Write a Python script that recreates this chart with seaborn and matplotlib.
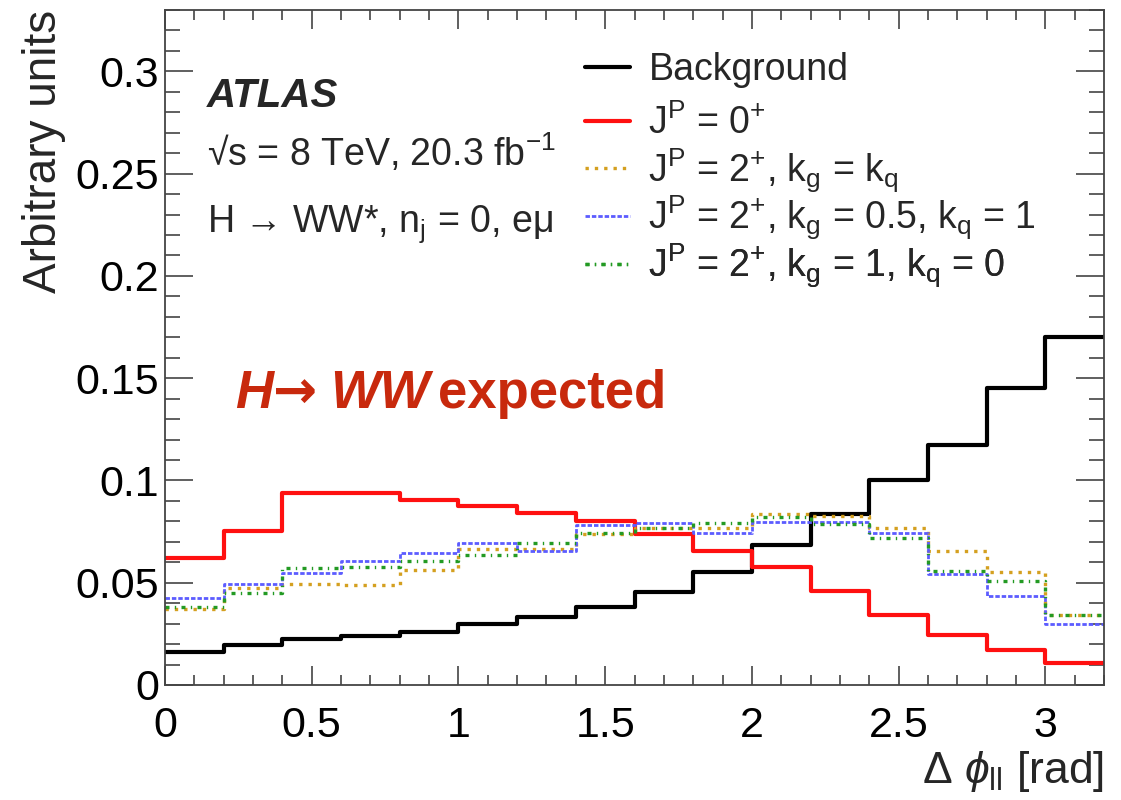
import numpy as np
import pandas as pd
import matplotlib
matplotlib.use("Agg")
import matplotlib.pyplot as plt
from matplotlib.ticker import MultipleLocator, FuncFormatter
import seaborn as sns

# Delta phi_ll binning [rad]
bin_edges = [round(0.2 * i, 2) for i in range(17)]
bin_centers = [round(0.5 * (a + b), 3) for a, b in zip(bin_edges[:-1], bin_edges[1:])]

# Normalised distributions (arbitrary units), one value per bin
background = [0.0163, 0.0196, 0.0225, 0.0240, 0.0261, 0.0297, 0.0334, 0.0383,
              0.0456, 0.0551, 0.0685, 0.0836, 0.1002, 0.1174, 0.1451, 0.1703]
spin0_plus = [0.0620, 0.0755, 0.0940, 0.0940, 0.0905, 0.0875, 0.0843, 0.0804,
              0.0738, 0.0655, 0.0575, 0.0462, 0.0342, 0.0244, 0.0171, 0.0106]
spin2_kg_eq_kq = [0.0370, 0.0473, 0.0494, 0.0489, 0.0562, 0.0663, 0.0663, 0.0737,
                  0.0766, 0.0766, 0.0836, 0.0826, 0.0769, 0.0655, 0.0551, 0.0342]
spin2_kg05_kq1 = [0.0424, 0.0492, 0.0546, 0.0606, 0.0644, 0.0693, 0.0655, 0.0782,
                  0.0791, 0.0742, 0.0795, 0.0799, 0.0742, 0.0543, 0.0437, 0.0298]
spin2_kg1_kq0 = [0.0383, 0.0448, 0.0571, 0.0579, 0.0606, 0.0636, 0.0693, 0.0745,
                 0.0770, 0.0791, 0.0823, 0.0786, 0.0720, 0.0557, 0.0509, 0.0342]

legend_labels = [
    "Background",
    r"J$^{P}$ = 0$^{+}$",
    r"J$^{P}$ = 2$^{+}$, k$_{g}$ = k$_{q}$",
    r"J$^{P}$ = 2$^{+}$, k$_{g}$ = 0.5, k$_{q}$ = 1",
    r"J$^{P}$ = 2$^{+}$, k$_{g}$ = 1, k$_{q}$ = 0",
]

sns.set_theme(style="ticks")
plt.rcParams["font.family"] = ["Liberation Sans", "DejaVu Sans"]
plt.rcParams["mathtext.fontset"] = "custom"
plt.rcParams["mathtext.rm"] = "Liberation Sans"
plt.rcParams["mathtext.it"] = "Liberation Sans:italic"
plt.rcParams["mathtext.bf"] = "Liberation Sans:bold"
plt.rcParams["mathtext.default"] = "regular"

fig = plt.figure(figsize=(11.21, 8.0), dpi=100)
fig.patch.set_facecolor("white")
ax = fig.add_axes([165 / 1121, 1 - 685 / 800, (1104 - 165) / 1121, (685 - 10) / 800])
ax.set_facecolor("white")

styles = [
    (background, "black", "-", 3.0),
    (spin0_plus, "#ff1010", "-", 3.0),
    (spin2_kg_eq_kq, "#d4a020", (0, (1.0, 1.8)), 2.4),
    (spin2_kg05_kq1, "#5c5cff", (0, (1.6, 0.7)), 2.0),
    (spin2_kg1_kq0, "#239a23", (0, (1.2, 1.6, 0.4, 1.6)), 2.4),
]

handles = []
for values, color, ls, lw in styles:
    df = pd.DataFrame({"dphi": bin_centers, "w": values})
    sns.histplot(data=df, x="dphi", weights="w", bins=bin_edges, element="step",
                 fill=False, color=color, linestyle=ls, linewidth=lw, ax=ax)
    line = ax.lines[-1]
    line.set_dash_capstyle("butt")
    handles.append(line)

ax.set_xlim(0, 3.2)
ax.set_ylim(0, 0.33)

fmt = FuncFormatter(lambda v, p: "%g" % round(v, 3))
ax.xaxis.set_major_locator(MultipleLocator(0.5))
ax.xaxis.set_minor_locator(MultipleLocator(0.1))
ax.yaxis.set_major_locator(MultipleLocator(0.05))
ax.yaxis.set_minor_locator(MultipleLocator(0.01))
ax.xaxis.set_major_formatter(fmt)
ax.yaxis.set_major_formatter(fmt)

axis_col = "#444444"
for sp in ax.spines.values():
    sp.set_color(axis_col)
    sp.set_linewidth(1.3)
ax.tick_params(which="both", direction="in", top=True, right=True,
               colors=axis_col, labelcolor="black", width=1.2, labelsize=31)
ax.tick_params(axis="y", which="major", length=20, pad=4)
ax.tick_params(axis="y", which="minor", length=11)
ax.tick_params(axis="x", which="major", length=14, pad=15)
ax.tick_params(axis="x", which="minor", length=7)

ax.set_ylabel("Arbitrary units", fontsize=33, loc="top", labelpad=7)
ax.set_xlabel(r"$\mathit{\Delta\ \phi}_{ll}$ [rad]", fontsize=32, loc="right", labelpad=2)

# Experiment labels
ax.text(0.144, 0.2826, "ATLAS", fontsize=29, fontweight="bold", fontstyle="italic",
        va="baseline", ha="left")
ax.text(0.144, 0.2538, "\u221as = 8 TeV, 20.3 fb$^{-1}$", fontsize=27,
        va="baseline", ha="left")
ax.text(0.144, 0.2215, "H \u2192 WW*, n$_{j}$ = 0, e\u03bc", fontsize=27,
        va="baseline", ha="left")

# Highlighted channel caption, assembled piece by piece
red = "#c8290d"
cap_h = ax.text(0.238, 0.1355, "H", fontsize=38, fontweight="bold",
                fontstyle="italic", color=red, va="baseline", ha="left")
cap_arrow = ax.annotate("\u2192", xy=(1, 0), xycoords=cap_h, xytext=(0, 0),
                        textcoords="offset points", fontsize=38, fontweight="bold",
                        family=["DejaVu Sans"], color=red, va="bottom", ha="left")
cap_ww = ax.annotate("WW", xy=(1, 0), xycoords=cap_arrow, xytext=(9, 0),
                     textcoords="offset points", fontsize=38, fontweight="bold",
                     fontstyle="italic", color=red, va="bottom", ha="left")
ax.annotate("expected", xy=(1, 0), xycoords=cap_ww, xytext=(6, 0),
            textcoords="offset points", fontsize=38, fontweight="bold",
            color=red, va="bottom", ha="left")

# Legend: one row per entry, evenly spaced
row_pix = [66.7, 117.7, 166.7, 215.5, 264.5]
row_shift = [-3.7, -5.7, -3.7, -2.5, -1.5]
for h, lab, yp, dy in zip(handles, legend_labels, row_pix, row_shift):
    leg = ax.legend([h], [lab], loc="center left",
                    bbox_to_anchor=(0.447, (685 - yp + dy) / 675),
                    frameon=False, fontsize=27, handlelength=1.2,
                    handletextpad=0.5, borderpad=0, borderaxespad=0)
    ax.add_artist(leg)

fig.savefig("out.png", dpi=100, facecolor="white")
